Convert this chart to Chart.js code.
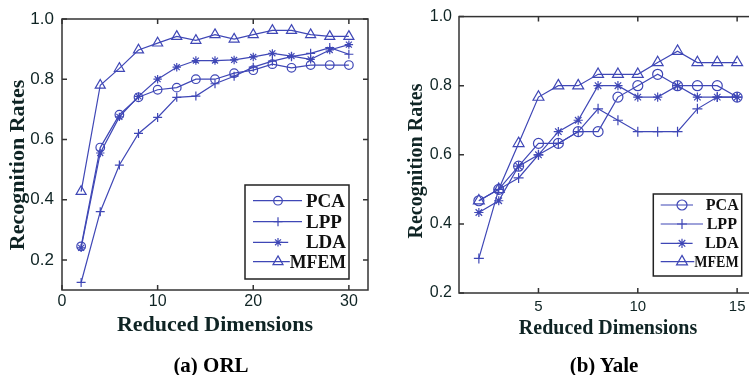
<!DOCTYPE html>
<html>
<head>
<meta charset="utf-8">
<script src="https://cdn.jsdelivr.net/npm/chart.js@4.4.1/dist/chart.umd.min.js"></script>
<style>
html, body { margin: 0; padding: 0; background: #fff; width: 749px; height: 375px; overflow: hidden; }
#wrap { position: relative; width: 749px; height: 375px; overflow: hidden; }
canvas { position: absolute; top: 0; }
#orl { left: 0; }
#yale { left: 370px; }
.cap { position: absolute; font: bold 21px "Liberation Serif", serif; line-height: 1; color: #000; transform: translateX(-50%); white-space: nowrap; }
</style>
</head>
<body>
<div id="wrap">
  <canvas id="orl" width="380" height="375"></canvas>
  <canvas id="yale" width="400" height="375"></canvas>
  <div class="cap" style="left:211px; top:355px">(a) ORL</div>
  <div class="cap" style="left:604px; top:355px">(b) Yale</div>
</div>
<script>
// ---- data ----
const seriesNames = ["PCA", "LPP", "LDA", "MFEM"];

const orlDims = [2, 4, 6, 8, 10, 12, 14, 16, 18, 20, 22, 24, 26, 28, 30];
const orlPCA  = [0.245, 0.573, 0.682, 0.740, 0.765, 0.772, 0.800, 0.800, 0.820, 0.830, 0.850, 0.838, 0.847, 0.847, 0.847];
const orlLPP  = [0.125, 0.360, 0.515, 0.620, 0.673, 0.740, 0.744, 0.785, 0.810, 0.840, 0.860, 0.875, 0.886, 0.905, 0.883];
const orlLDA  = [0.240, 0.555, 0.675, 0.743, 0.800, 0.840, 0.862, 0.862, 0.864, 0.874, 0.886, 0.877, 0.866, 0.897, 0.915];
const orlMFEM = [0.427, 0.780, 0.836, 0.897, 0.920, 0.942, 0.929, 0.948, 0.933, 0.948, 0.962, 0.962, 0.948, 0.942, 0.942];

const yaleDims = [2, 3, 4, 5, 6, 7, 8, 9, 10, 11, 12, 13, 14, 15];
const yalePCA  = [0.467, 0.500, 0.567, 0.633, 0.633, 0.667, 0.667, 0.767, 0.800, 0.833, 0.800, 0.800, 0.800, 0.767];
const yaleLPP  = [0.300, 0.500, 0.533, 0.600, 0.633, 0.667, 0.733, 0.700, 0.667, 0.667, 0.667, 0.733, 0.767, 0.767];
const yaleLDA  = [0.433, 0.467, 0.567, 0.600, 0.667, 0.700, 0.800, 0.800, 0.767, 0.767, 0.800, 0.767, 0.767, 0.767];
const yaleMFEM = [0.467, 0.500, 0.633, 0.767, 0.800, 0.800, 0.833, 0.833, 0.833, 0.867, 0.900, 0.867, 0.867, 0.867];

const orlXTicks  = [0, 10, 20, 30];
const orlYTicks  = [0.2, 0.4, 0.6, 0.8, 1.0];
const yaleXTicks = [5, 10, 15];
const yaleYTicks = [0.2, 0.4, 0.6, 0.8, 1.0];

// ---- styling ----
const BLUE = "#3f47b6";
const INK = "#0f2424";
const markers = ["circle", "cross", "star", "triangle"];

// box + inward ticks on all four sides
const framePlugin = {
  id: "frame",
  afterDatasetsDraw(chart, args, o) {
    const { ctx, chartArea: a, scales } = chart;
    ctx.save();
    ctx.strokeStyle = o.color;
    ctx.lineWidth = o.width;
    ctx.strokeRect(a.left, a.top, a.right - a.left, a.bottom - a.top);
    ctx.beginPath();
    scales.x.ticks.forEach(t => {
      const px = scales.x.getPixelForValue(t.value);
      ctx.moveTo(px, a.bottom); ctx.lineTo(px, a.bottom - o.tick);
      ctx.moveTo(px, a.top); ctx.lineTo(px, a.top + o.tick);
    });
    scales.y.ticks.forEach(t => {
      const py = scales.y.getPixelForValue(t.value);
      ctx.moveTo(a.left, py); ctx.lineTo(a.left + o.tick, py);
      ctx.moveTo(a.right, py); ctx.lineTo(a.right - o.tick, py);
    });
    ctx.stroke();
    ctx.restore();
  }
};

// rotated y axis title, placed a bit below the axis middle like the original
const yTitle = {
  id: "yTitle",
  afterDraw(chart, args, o) {
    const ctx = chart.ctx;
    ctx.save();
    ctx.translate(o.x, o.y);
    ctx.rotate(-Math.PI / 2);
    ctx.font = o.font;
    ctx.fillStyle = INK;
    ctx.textAlign = "center";
    ctx.textBaseline = "middle";
    ctx.fillText(o.text, 0, 0);
    ctx.restore();
  }
};

// MATLAB style legend box inside the axes
const boxLegend = {
  id: "boxLegend",
  afterDraw(chart, args, o) {
    const ctx = chart.ctx;
    const [x1, y1, x2, y2] = o.box;
    ctx.save();
    ctx.fillStyle = "#fff";
    ctx.fillRect(x1, y1, x2 - x1, y2 - y1);
    ctx.strokeStyle = "#222";
    ctx.lineWidth = 1.5;
    ctx.strokeRect(x1, y1, x2 - x1, y2 - y1);
    ctx.font = o.font;
    ctx.textBaseline = "middle";
    chart.data.datasets.forEach((ds, i) => {
      const y = o.rows[i];
      const w = ctx.measureText(ds.label).width;
      let lineEnd = o.line[1];
      ctx.fillStyle = "#111";
      if (o.textX + w > x2 - 3) {
        // squeeze long label next to the marker
        const start = o.markX + ds.pointRadius + 6;
        ctx.textAlign = "right";
        ctx.fillText(ds.label, x2 - 3, y + 1, x2 - 3 - start);
        lineEnd = start;
      } else {
        ctx.textAlign = "left";
        ctx.fillText(ds.label, o.textX, y + 1);
      }
      ctx.strokeStyle = ds.borderColor;
      ctx.lineWidth = ds.borderWidth;
      ctx.beginPath();
      ctx.moveTo(o.line[0], y); ctx.lineTo(lineEnd, y);
      ctx.stroke();
      ctx.fillStyle = "rgba(0,0,0,0)";
      ctx.lineWidth = ds.pointBorderWidth;
      Chart.helpers.drawPoint(ctx, { pointStyle: ds.pointStyle, radius: ds.pointRadius, rotation: 0, borderWidth: ds.pointBorderWidth }, o.markX, y);
    });
    ctx.restore();
  }
};

function makeDatasets(dims, series, radii) {
  return series.map((vals, i) => ({
    label: seriesNames[i],
    data: dims.map((d, j) => ({ x: d, y: vals[j] })),
    borderColor: BLUE,
    borderWidth: 1.2,
    backgroundColor: "rgba(0,0,0,0)",
    pointStyle: markers[i],
    pointRadius: radii[i],
    pointBorderWidth: 1.2,
    pointBorderColor: BLUE,
    pointBackgroundColor: "rgba(0,0,0,0)",
    tension: 0
  }));
}

function makeChart(id, c) {
  return new Chart(document.getElementById(id), {
    type: "line",
    data: { datasets: makeDatasets(c.dims, c.series, c.radii) },
    options: {
      responsive: false,
      animation: false,
      devicePixelRatio: 1,
      layout: { padding: c.padding },
      plugins: {
        legend: { display: false },
        tooltip: { enabled: false },
        frame: { color: "#333", width: 1.5, tick: 5 },
        yTitle: c.yTitle,
        boxLegend: c.legend
      },
      scales: {
        x: {
          type: "linear",
          min: c.xRange[0], max: c.xRange[1],
          afterBuildTicks: s => { s.ticks = c.xTicks.map(v => ({ value: v })); },
          afterFit: s => { s.height = c.xAxisH; },
          grid: { display: false, drawTicks: false },
          border: { display: false },
          ticks: { color: INK, font: { family: "Liberation Sans", size: c.xTickSize }, padding: c.xTickPad, maxRotation: 0, callback: v => String(v) },
          title: { display: true, text: "Reduced Dimensions", color: INK, font: { family: "Liberation Serif", weight: "bold", size: c.xTitleSize, lineHeight: 1.2 }, padding: { top: 0, bottom: c.xTitlePad } }
        },
        y: {
          type: "linear",
          min: c.yRange[0], max: c.yRange[1],
          afterBuildTicks: s => { s.ticks = c.yTicks.map(v => ({ value: v })); },
          afterFit: s => { s.width = c.yAxisW; },
          grid: { display: false, drawTicks: false },
          border: { display: false },
          ticks: { color: INK, font: { family: "Liberation Sans", size: c.yTickSize }, padding: c.yTickPad, callback: v => Number(v).toFixed(1) }
        }
      }
    },
    plugins: [framePlugin, yTitle, boxLegend]
  });
}

makeChart("orl", {
  dims: orlDims,
  series: [orlPCA, orlLPP, orlLDA, orlMFEM],
  radii: [4.3, 4.5, 4.2, 5.8],
  padding: { top: 19, right: 12, left: 0, bottom: 0 },
  xRange: [0, 32], yRange: [0.1, 1.0],
  xTicks: orlXTicks, yTicks: orlYTicks,
  xAxisH: 85, yAxisW: 62,
  xTickSize: 16, xTickPad: 2, yTickSize: 17, yTickPad: 8,
  xTitleSize: 22, xTitlePad: 36,
  yTitle: { text: "Recognition Rates", x: 18, y: 165, font: "bold 22px 'Liberation Serif'" },
  legend: { box: [245, 185, 349, 279], rows: [200.7, 221.7, 242.3, 261.7], line: [253, 302], markX: 278, textX: 306, font: "bold 19px 'Liberation Serif'" }
});

makeChart("yale", {
  dims: yaleDims,
  series: [yalePCA, yaleLPP, yaleLDA, yaleMFEM],
  radii: [5, 5, 4.6, 6.3],
  padding: { top: 15, right: 13, left: 0, bottom: 0 },
  xRange: [1, 16], yRange: [0.2, 1.0],
  xTicks: yaleXTicks, yTicks: yaleYTicks,
  xAxisH: 82, yAxisW: 89,
  xTickSize: 15, xTickPad: 5, yTickSize: 16, yTickPad: 7,
  xTitleSize: 20, xTitlePad: 34,
  yTitle: { text: "Recognition Rates", x: 47, y: 161, font: "bold 20px 'Liberation Serif'" },
  legend: { box: [283.3, 194, 371.7, 276], rows: [205, 224, 243.3, 261.7], line: [290.7, 333], markX: 312, textX: 336.7, font: "bold 16px 'Liberation Serif'" }
});
</script>
</body>
</html>
